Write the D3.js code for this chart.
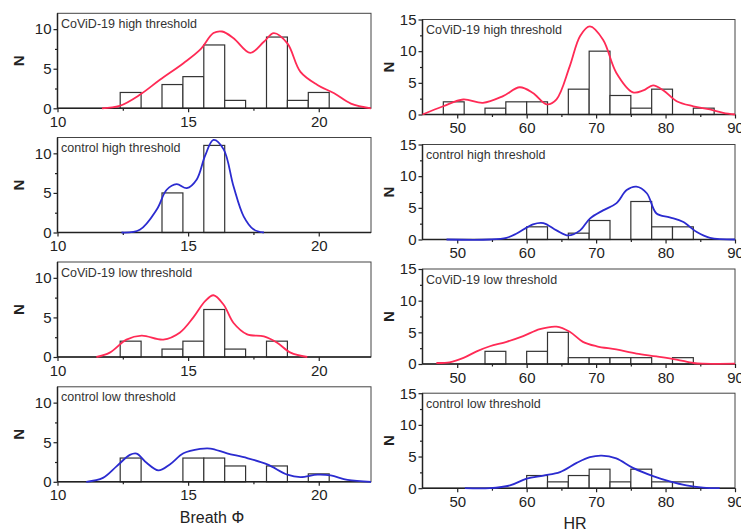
<!DOCTYPE html>
<html><head><meta charset="utf-8">
<script src="https://cdn.jsdelivr.net/npm/d3@7"></script>
<style>
html,body{margin:0;padding:0;background:#fff;}
svg{display:block;font-family:Arial,"Liberation Sans",sans-serif;}
</style></head>
<body>
<svg id="chart" width="741" height="529"></svg>
<script>
// ---- data ----
const breathEdges = [12.4, 13.2, 14.0, 14.8, 15.6, 16.4, 17.2, 18.0, 18.8, 19.6, 20.4];
const hrEdges = [48, 51, 54, 57, 60, 63, 66, 69, 72, 75, 78, 81, 84, 87];

const breathCovidHigh   = [2, 0, 3, 4, 8, 1, 0, 9, 1, 2];
const breathControlHigh = [0, 0, 5, 0, 11, 0, 0, 0, 0, 0];
const breathCovidLow    = [2, 0, 1, 2, 6, 1, 0, 2, 0, 0];
const breathControlLow  = [3, 0, 0, 3, 3, 2, 0, 2, 0, 1];

const hrCovidHigh   = [2, 0, 1, 2, 2, 0, 4, 10, 3, 1, 4, 0, 1];
const hrControlHigh = [0, 0, 0, 0, 2, 0, 1, 3, 0, 6, 2, 2, 0];
const hrCovidLow    = [0, 0, 2, 0, 2, 5, 1, 1, 1, 1, 0, 1, 0];
const hrControlLow  = [0, 0, 0, 0, 2, 1, 2, 3, 1, 3, 1, 1, 0];

const breathCovidHighCurve = [[11.7,0],[12.38,0.3],[13.15,1.7],[13.92,3.6],[14.82,5.7],[15.46,7.4],[15.97,9.5],[16.3,9.7],[16.74,8.86],[17.38,7.0],[17.9,8.4],[18.28,9.5],[18.8,8.2],[19.3,4.6],[19.95,2.95],[20.59,1.9],[21.23,0.6],[22,0]];
const breathControlHighCurve = [[12.45,0],[13.15,0.34],[13.8,2.9],[14.18,5.4],[14.56,6.1],[14.95,5.6],[15.33,6.7],[15.65,9.7],[15.97,11.7],[16.36,10.5],[16.74,5.8],[17.13,2.0],[17.5,0.4],[17.9,0]];
const breathCovidLowCurve = [[11.49,0],[12.0,0.55],[12.64,2.2],[13.22,2.7],[14.05,2.2],[14.69,3.1],[15.2,5.0],[15.65,7.05],[15.97,7.8],[16.36,6.6],[16.74,4.3],[17.26,2.86],[17.9,2.6],[18.41,1.8],[18.92,0.55],[19.56,0]];
const breathControlLowCurve = [[11.1,0],[11.74,0.5],[12.26,1.95],[12.77,3.4],[13.03,3.56],[13.41,2.4],[13.86,1.44],[14.3,2.2],[14.82,3.6],[15.46,4.15],[15.85,4.2],[16.49,3.6],[17.26,3.0],[18.03,2.2],[18.8,0.9],[19.3,0.6],[19.95,0.9],[20.46,0.8],[21.1,0.25],[22,0]];

const hrCovidHighCurve = [[45,0],[47.98,1.3],[50.86,2.37],[53.7,1.85],[56.6,2.9],[59.0,4.3],[60.9,3.4],[62.9,1.6],[64.3,2.4],[66.2,7.6],[67.7,12.4],[69.1,13.9],[71.0,11.8],[72.9,6.6],[75.3,3.5],[76.8,3.8],[78.2,4.6],[79.7,3.8],[81.6,2.1],[84.0,1.3],[86.4,0.8],[88.3,0.26],[90,0]];
const hrControlHighCurve = [[48.46,0],[54.7,0],[57.1,0.27],[58.5,0.9],[60.9,2.4],[62.4,2.6],[64.3,1.44],[66.0,0.64],[67.7,1.44],[69.1,3.3],[71.0,4.6],[72.9,5.7],[74.4,7.8],[75.8,8.35],[77.3,7.3],[78.7,4.1],[80.6,3.5],[82.5,2.8],[84.5,1.17],[86.4,0.27],[90,0]];
const hrCovidLowCurve = [[47.0,0.16],[48.9,0.27],[50.9,0.96],[52.8,2.0],[54.7,2.8],[57.1,3.5],[59.5,4.4],[61.9,5.5],[64.3,5.9],[66.2,5.1],[68.1,3.5],[70.1,2.8],[72.9,2.3],[75.8,1.65],[78.7,1.2],[81.6,0.7],[84.0,0.16],[85.4,0.05],[90,0.05]];
const hrControlLowCurve = [[51.1,0],[54.7,0],[57.6,0.43],[60.0,1.5],[62.4,2.0],[64.8,2.55],[67.2,4.0],[69.1,4.9],[70.8,5.15],[72.9,4.7],[75.3,3.2],[78.2,1.9],[80.6,1.06],[83.0,0.43],[85.4,0.1],[87.8,0]];

const breathTicks = [10, 15, 20];
const breathMinor = [12.5, 17.5];
const hrTicks = [50, 60, 70, 80, 90];
const hrMinor = [55, 65, 75, 85];
const nTicksLeft = [0, 5, 10];
const nMinorLeft = [2.5, 7.5];
const nTicksRight = [0, 5, 10, 15];
const nMinorRight = [2.5, 7.5, 12.5];

const titles = ["CoViD-19 high threshold", "control high threshold", "CoViD-19 low threshold", "control low threshold"];
const RED = "#ff2a55", BLUE = "#2b2bd0";

// ---- layout ----
const svg = d3.select("#chart");
const leftTops = [13.3, 137.5, 262, 386.8];
const rightTops = [19.5, 144.5, 269, 393.2];
const PH = 95;

const panels = [
  {col:"L", top:leftTops[0], counts:breathCovidHigh, curve:breathCovidHighCurve, color:RED, title:titles[0]},
  {col:"L", top:leftTops[1], counts:breathControlHigh, curve:breathControlHighCurve, color:BLUE, title:titles[1]},
  {col:"L", top:leftTops[2], counts:breathCovidLow, curve:breathCovidLowCurve, color:RED, title:titles[2]},
  {col:"L", top:leftTops[3], counts:breathControlLow, curve:breathControlLowCurve, color:BLUE, title:titles[3]},
  {col:"R", top:rightTops[0], counts:hrCovidHigh, curve:hrCovidHighCurve, color:RED, title:titles[0]},
  {col:"R", top:rightTops[1], counts:hrControlHigh, curve:hrControlHighCurve, color:BLUE, title:titles[1]},
  {col:"R", top:rightTops[2], counts:hrCovidLow, curve:hrCovidLowCurve, color:RED, title:titles[2]},
  {col:"R", top:rightTops[3], counts:hrControlLow, curve:hrControlLowCurve, color:BLUE, title:titles[3]},
];

panels.forEach(p => {
  const L = p.col === "L";
  const x0 = L ? 57.5 : 422.5, x1 = L ? 371 : 735;
  const x = d3.scaleLinear().domain(L ? [10, 22] : [45, 90]).range([x0, x1]);
  const y = d3.scaleLinear().domain([0, L ? 12 : 15]).range([p.top + PH, p.top]);
  const edges = L ? breathEdges : hrEdges;
  const w = L ? 0.8 : 3;
  const g = svg.append("g");

  // frame
  g.append("rect").attr("x", x0).attr("y", p.top).attr("width", x1 - x0).attr("height", PH)
    .attr("fill", "none").attr("stroke", "#444").attr("stroke-width", 1);

  // bars
  g.selectAll("rect.bar").data(p.counts.map((c, i) => ({c, s: edges[i]})).filter(d => d.c > 0))
    .enter().append("rect").attr("class", "bar")
    .attr("x", d => x(d.s)).attr("width", d => x(d.s + w) - x(d.s))
    .attr("y", d => y(d.c)).attr("height", d => y(0) - y(d.c))
    .attr("fill", "#fff").attr("stroke", "#333").attr("stroke-width", 1.2);

  // axes
  const fs = "15px";
  const xa = g.append("g").attr("transform", `translate(0,${y(0)})`)
    .call(d3.axisBottom(x).tickValues(L ? breathTicks : hrTicks).tickSize(4).tickPadding(4).tickFormat(d3.format("d")));
  const xm = g.append("g").attr("transform", `translate(0,${y(0)})`)
    .call(d3.axisBottom(x).tickValues(L ? breathMinor : hrMinor).tickSize(2.5).tickFormat(""));
  const ya = g.append("g").attr("transform", `translate(${x0},0)`)
    .call(d3.axisLeft(y).tickValues(L ? nTicksLeft : nTicksRight).tickSize(4).tickPadding(2).tickFormat(d3.format("d")));
  const ym = g.append("g").attr("transform", `translate(${x0},0)`)
    .call(d3.axisLeft(y).tickValues(L ? nMinorLeft : nMinorRight).tickSize(2.5).tickFormat(""));
  [xa, xm, ya, ym].forEach(a => {
    a.selectAll(".tick line").attr("stroke", "#222").attr("stroke-width", 1.2);
    a.selectAll(".tick text").attr("fill", "#222").style("font-size", fs).style("font-family", "Arial, 'Liberation Sans', sans-serif");
    a.select(".domain").remove();
  });
  g.append("line").attr("x1", x0).attr("x2", x1).attr("y1", y(0)).attr("y2", y(0)).attr("stroke", "#222").attr("stroke-width", 1.5);
  g.append("line").attr("x1", x0).attr("x2", x0).attr("y1", p.top).attr("y2", y(0)).attr("stroke", "#222").attr("stroke-width", 1.5);

  // density curve
  const line = d3.line().x(d => x(d[0])).y(d => y(d[1])).curve(d3.curveCatmullRom.alpha(0.5));
  g.append("path").attr("d", line(p.curve)).attr("fill", "none").attr("stroke", p.color).attr("stroke-width", 1.8);

  // title
  g.append("text").attr("x", x0 + 3.5).attr("y", p.top + 14.5).text(p.title)
    .attr("fill", "#333").style("font-size", "12.5px");

  // N label
  g.append("text").attr("transform", `translate(${L ? 24 : 394},${p.top + PH / 2}) rotate(-90)`)
    .attr("text-anchor", "middle").text("N").attr("fill", "#222")
    .style("font-size", "15px").style("font-weight", "bold");
});

svg.append("text").attr("x", 212).attr("y", 523).attr("text-anchor", "middle")
  .text("Breath Φ").attr("fill", "#222").style("font-size", "16px");
svg.append("text").attr("x", 575).attr("y", 529).attr("text-anchor", "middle")
  .text("HR").attr("fill", "#222").style("font-size", "16px");
</script>
</body></html>
